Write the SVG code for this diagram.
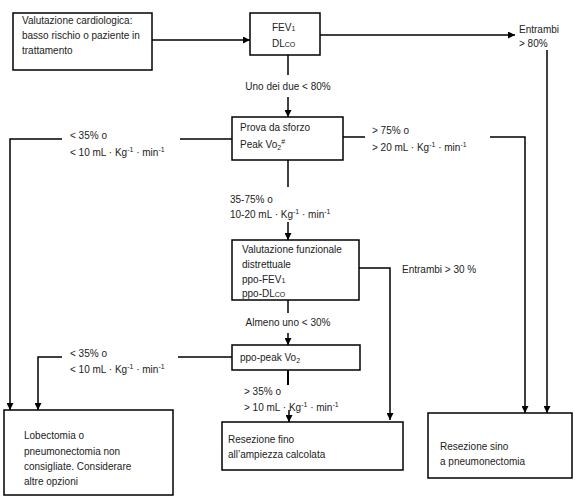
<svg xmlns="http://www.w3.org/2000/svg" width="575" height="501" viewBox="0 0 575 501">
<defs>
<marker id="ah" viewBox="0 0 10 10" refX="10" refY="5" markerWidth="7" markerHeight="7" markerUnits="userSpaceOnUse" orient="auto">
<path d="M0,0 L10,5 L0,10 z" fill="#000"/>
</marker>
</defs>
<style>
.box{fill:#fff;stroke:#000;stroke-width:1.5}
.ln{fill:none;stroke:#000;stroke-width:1.5}
.ar{fill:none;stroke:#000;stroke-width:1.5;marker-end:url(#ah)}
text{font-family:"Liberation Sans",Arial,sans-serif;font-size:10px;fill:#222}
.sm{font-size:7px}
</style>
<rect width="575" height="501" fill="#fff"/>
<g id="connectors">
<path class="ar" d="M152,40 H250"/>
<path class="ar" d="M320,35 H515"/>
<path class="ln" d="M288,55 V75"/>
<path class="ar" d="M288,97 V117"/>
<path class="ln" d="M232,139 H180"/>
<path class="ar" d="M62,139 H10 V410"/>
<path class="ln" d="M343,137 H365"/>
<path class="ar" d="M490,137 H525 V413"/>
<path class="ar" d="M547,50 V413"/>
<path class="ln" d="M288,160 V187"/>
<path class="ar" d="M288,222 V240"/>
<path class="ar" d="M359,268 H390 V420"/>
<path class="ln" d="M288,300 V313"/>
<path class="ar" d="M288,333 V345"/>
<path class="ln" d="M232,357 H178"/>
<path class="ar" d="M62,357 H38 V410"/>
<path class="ln" d="M288,370 V385" style="stroke-width:2"/>
<path class="ar" d="M289,410 V422"/>
</g>
<g id="n1">
<rect class="box" x="13" y="13" width="139" height="57"/>
<text x="22" y="24">Valutazione cardiologica:</text>
<text x="22" y="39">basso rischio o paziente in</text>
<text x="22" y="54">trattamento</text>
</g>
<g id="n2">
<rect class="box" x="250" y="13" width="70" height="42"/>
<text x="272" y="31">FEV<tspan class="sm">1</tspan></text>
<text x="272" y="47">DL<tspan class="sm">CO</tspan></text>
</g>
<g id="lbl-entrambi80">
<text x="519" y="33">Entrambi</text>
<text x="519" y="47">&gt; 80%</text>
</g>
<g id="lbl-uno">
<text x="288" y="90" text-anchor="middle">Uno dei due &lt; 80%</text>
</g>
<g id="n3">
<rect class="box" x="232" y="117" width="111" height="43"/>
<text x="240" y="131">Prova da sforzo</text>
<text x="240" y="148">Peak Vo<tspan class="sm" dy="2">2</tspan><tspan class="sm" dy="-6">#</tspan></text>
</g>
<g id="lbl-l1">
<text x="70" y="139">&lt; 35% o</text>
<text x="70" y="156">&lt; 10 mL · Kg<tspan class="sm" dy="-4">-1</tspan><tspan dy="4"> · min</tspan><tspan class="sm" dy="-4">-1</tspan></text>
</g>
<g id="lbl-r1">
<text x="372" y="134">&gt; 75% o</text>
<text x="372" y="151">&gt; 20 mL · Kg<tspan class="sm" dy="-4">-1</tspan><tspan dy="4"> · min</tspan><tspan class="sm" dy="-4">-1</tspan></text>
</g>
<g id="lbl-mid1">
<text x="230" y="203">35-75% o</text>
<text x="230" y="218">10-20 mL · Kg<tspan class="sm" dy="-4">-1</tspan><tspan dy="4"> · min</tspan><tspan class="sm" dy="-4">-1</tspan></text>
</g>
<g id="n4">
<rect class="box" x="232" y="240" width="127" height="60"/>
<text x="242" y="253">Valutazione funzionale</text>
<text x="242" y="268">distrettuale</text>
<text x="242" y="283">ppo-FEV<tspan class="sm">1</tspan></text>
<text x="242" y="297">ppo-DL<tspan class="sm">CO</tspan></text>
</g>
<g id="lbl-entrambi30">
<text x="402" y="273">Entrambi &gt; 30 %</text>
</g>
<g id="lbl-almeno">
<text x="288" y="326" text-anchor="middle">Almeno uno &lt; 30%</text>
</g>
<g id="n5">
<rect class="box" x="232" y="345" width="128" height="25"/>
<text x="240" y="361">ppo-peak Vo<tspan class="sm" dy="2">2</tspan></text>
</g>
<g id="lbl-l2">
<text x="70" y="357">&lt; 35% o</text>
<text x="70" y="373">&lt; 10 mL · Kg<tspan class="sm" dy="-4">-1</tspan><tspan dy="4"> · min</tspan><tspan class="sm" dy="-4">-1</tspan></text>
</g>
<g id="lbl-mid2">
<text x="244" y="395">&gt; 35% o</text>
<text x="244" y="411">&gt; 10 mL · Kg<tspan class="sm" dy="-4">-1</tspan><tspan dy="4"> · min</tspan><tspan class="sm" dy="-4">-1</tspan></text>
</g>
<g id="n6">
<rect class="box" x="4" y="410" width="169" height="85"/>
<text x="24" y="439">Lobectomia o</text>
<text x="24" y="455">pneumonectomia non</text>
<text x="24" y="470">consigliate. Considerare</text>
<text x="24" y="485">altre opzioni</text>
</g>
<g id="n7">
<rect class="box" x="222" y="422" width="181" height="48"/>
<text x="228" y="443">Resezione fino</text>
<text x="228" y="458">all’ampiezza calcolata</text>
</g>
<g id="n8">
<rect class="box" x="428" y="413" width="144" height="65"/>
<text x="440" y="450">Resezione sino</text>
<text x="440" y="465">a pneumonectomia</text>
</g>
</svg>
